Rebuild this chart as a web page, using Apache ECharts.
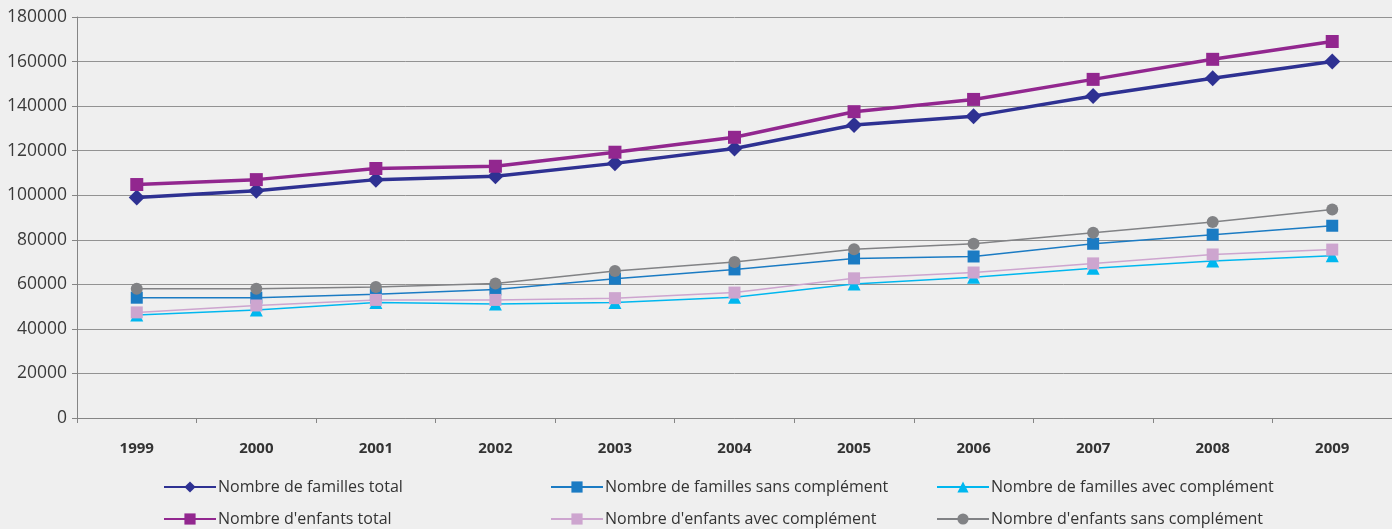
<!DOCTYPE html>
<html>
<head>
<meta charset="utf-8">
<script src="https://cdn.jsdelivr.net/npm/echarts@6/dist/echarts.min.js"></script>
<style>
    html, body { margin: 0; padding: 0; background: #efefef; }
    #chart { width: 1392px; height: 529px; }
</style>
</head>
<body>
<div id="chart"></div>
<script>
// années
var years = ['1999', '2000', '2001', '2002', '2003', '2004', '2005', '2006', '2007', '2008', '2009'];
var yTicks = [0, 20000, 40000, 60000, 80000, 100000, 120000, 140000, 160000, 180000];

var famillesTotal = [99000, 102000, 107000, 108500, 114300, 121000, 131500, 135500, 144500, 152500, 160000];
var famillesSans = [54000, 54000, 55500, 57700, 62500, 66700, 71600, 72500, 78200, 82300, 86300];
var famillesAvec = [46200, 48500, 51800, 51200, 51800, 54200, 60200, 63200, 67200, 70500, 72800];
var enfantsTotal = [104800, 107000, 112000, 113000, 119300, 126000, 137500, 143000, 152000, 161000, 169000];
var enfantsAvec = [47400, 50500, 53000, 53000, 53800, 56300, 62700, 65300, 69400, 73400, 75600];
var enfantsSans = [58000, 58000, 58800, 60400, 66000, 70000, 75800, 78200, 83200, 88000, 93600];

var chart = echarts.init(document.getElementById('chart'));

/**
 * une série ligne avec marqueur
 */
function serie(name, data, color, symbol, size, width) {
    return {
        name: name,
        type: 'line',
        data: data,
        symbol: symbol,
        symbolSize: size,
        showAllSymbol: true,
        animation: false,
        itemStyle: { color: color },
        lineStyle: { color: color, width: width }
    };
}

// une entrée de légende par position (3 colonnes x 2 lignes)
function legende(left, top, name) {
    return {
        left: left,
        top: top,
        padding: 0,
        itemWidth: 52,
        itemHeight: 14,
        itemGap: 0,
        textStyle: { fontFamily: 'Open Sans', fontSize: 16, color: '#333', padding: [0, 0, 0, -3] },
        data: [name]
    };
}

var option = {
    backgroundColor: '#efefef',
    grid: { left: 77, right: 0, top: 17, bottom: 111 },
    legend: [
        legende(163, 479, 'Nombre de familles total'),
        legende(163, 511, "Nombre d'enfants total"),
        legende(550, 479, 'Nombre de familles sans complément'),
        legende(550, 511, "Nombre d'enfants avec complément"),
        legende(936, 479, 'Nombre de familles avec complément'),
        legende(936, 511, "Nombre d'enfants sans complément")
    ],
    xAxis: {
        type: 'category',
        data: years,
        boundaryGap: true,
        axisLine: { lineStyle: { color: '#858585', width: 1 } },
        axisTick: { show: true, length: 5, lineStyle: { color: '#858585' } },
        axisLabel: { margin: 23, fontFamily: 'Open Sans', fontWeight: 'bold', fontSize: 15, color: '#333' }
    },
    yAxis: {
        type: 'value',
        min: yTicks[0],
        max: yTicks[yTicks.length - 1],
        interval: yTicks[1] - yTicks[0],
        axisLine: { show: true, lineStyle: { color: '#858585' } },
        axisTick: { show: true, length: 5, lineStyle: { color: '#858585' } },
        axisLabel: {
            margin: 10, fontFamily: 'Open Sans', fontSize: 17.5, color: '#3a3a3a',
            formatter: function (v) { return String(v); }
        },
        splitLine: { lineStyle: { color: '#929292', width: 1 } }
    },
    series: [
        serie('Nombre de familles total', famillesTotal, '#2e3192', 'diamond', 16, 3.5),
        serie('Nombre de familles sans complément', famillesSans, '#1b7bc3', 'rect', 12, 1.5),
        serie('Nombre de familles avec complément', famillesAvec, '#00b7ef', 'triangle', 13, 1.5),
        serie("Nombre d'enfants total", enfantsTotal, '#92278f', 'rect', 13, 3.5),
        serie("Nombre d'enfants avec complément", enfantsAvec, '#cda5cf', 'rect', 12, 1.5),
        serie("Nombre d'enfants sans complément", enfantsSans, '#818285', 'circle', 12, 1.5)
    ]
};
chart.setOption(option);

window.addEventListener('resize', function () {
    chart.resize();
});
</script>
</body>
</html>
